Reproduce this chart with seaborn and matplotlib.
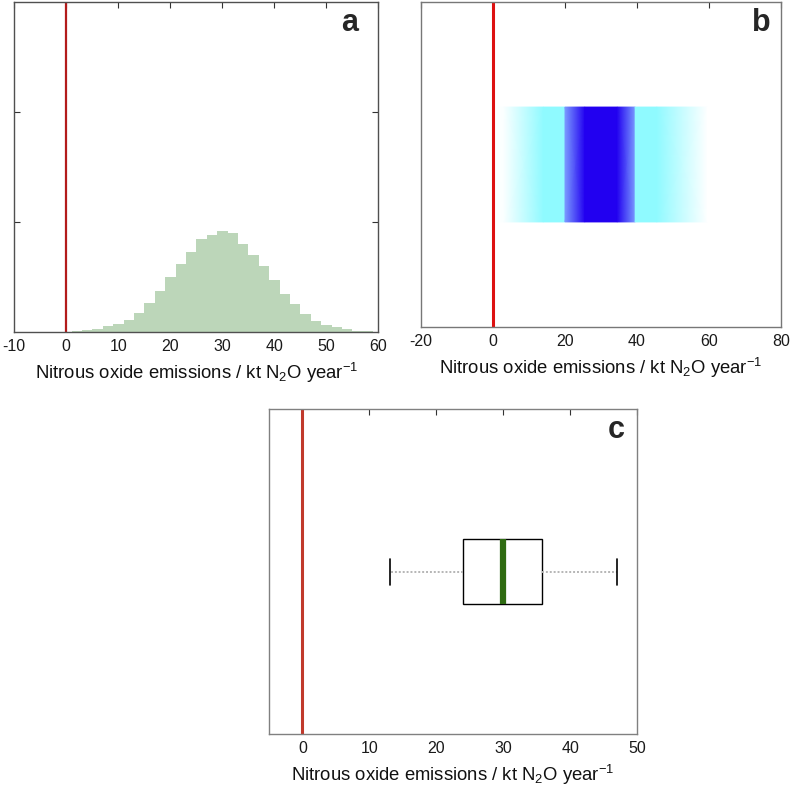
import numpy as np
import pandas as pd
import seaborn as sns
import matplotlib
matplotlib.use("Agg")  # no display
import matplotlib.pyplot as plt
from matplotlib.colors import LinearSegmentedColormap, to_hex

# Panel a: histogram of emissions (bin centres, 2 kt wide bins)
hist_centers = [-8, -6, -4, -2, 0, 2, 4, 6, 8, 10, 12, 14, 16, 18, 20, 22, 24,
                26, 28, 30, 32, 34, 36, 38, 40, 42, 44, 46, 48, 50, 52, 54, 56, 58]
hist_counts = [3, 3, 3, 3, 4, 6, 15, 27, 51, 73, 106, 169, 266, 375, 499, 614, 723,
               847, 883, 922, 898, 804, 698, 596, 475, 345, 254, 163, 97, 67, 42, 24, 12, 6]

# Panel b: density strip, shade level (0 = white, 1 = darkest) along x
strip_x = [0, 3, 14, 20, 20, 25.5, 34.5, 39.5, 39.5, 45.5, 59.5, 62]
strip_shade = [0, 0.02, 0.5, 0.5, 0.6, 1, 1, 0.6, 0.5, 0.5, 0.0, 0]

# Panel c: five-number summary of emissions
box_values = [13, 24, 30, 35.7, 47]

XLABEL = "Nitrous oxide emissions / kt N$_2$O year$^{-1}$"

sns.set_theme(style="white")
plt.rcParams['font.family'] = ['Liberation Sans', 'DejaVu Sans']
plt.rcParams['mathtext.fontset'] = 'custom'
plt.rcParams['mathtext.rm'] = 'Liberation Sans'
plt.rcParams['mathtext.it'] = 'Liberation Sans'
plt.rcParams['axes.unicode_minus'] = False

fig = plt.figure(figsize=(7.9, 7.9), dpi=100)
W = 790.0


def rect(left, top, right, bottom):
    return [left / W, 1 - bottom / W, (right - left) / W, (bottom - top) / W]


def style_axes(ax, spine_color):
    for s in ax.spines.values():
        s.set_color(spine_color)
        s.set_linewidth(1.0)
    ax.tick_params(axis='x', direction='in', top=True, length=4, width=0.8,
                   color='#333333', labelsize=11.5, labelcolor='#1a1a1a', pad=5)
    ax.set_xlabel(XLABEL, fontsize=13.3, color='#111111', labelpad=5)
    ax.set_ylabel("")


# ---- panel a ----
ax_a = fig.add_axes(rect(14.3, 2, 378.3, 332))
df_a = pd.DataFrame({"x": hist_centers, "n": hist_counts})
sns.histplot(data=df_a, x="x", weights="n", binwidth=2, binrange=(-9, 59),
             color="#bcd6b9", alpha=1, edgecolor="none", linewidth=0, ax=ax_a)
ax_a.axvline(0, color="#b31b1b", lw=1.6)
ax_a.set_xlim(-10, 60)
ax_a.set_ylim(0, 3000)
ax_a.set_xticks(range(-10, 61, 10))
ax_a.set_yticks([1000, 2000])
ax_a.set_yticklabels([])
style_axes(ax_a, '#505050')
ax_a.tick_params(axis='y', direction='in', left=True, right=True, length=4,
                 width=0.8, color='#333333')
ax_a.text(0.922, 0.935, "a", transform=ax_a.transAxes, fontsize=22,
          fontweight='bold', ha='center', va='center')

# ---- panel b ----
ax_b = fig.add_axes(rect(421, 2, 781, 327))
cmap_b = LinearSegmentedColormap.from_list(
    "strip", [(0.0, "#ffffff"), (0.5, "#8ffcff"), (0.6, "#7c9cff"), (1.0, "#2200f0")])
shade = np.array([strip_shade, strip_shade])
ax_b.pcolormesh(np.array(strip_x), np.array([0.97, 2.03]), shade, cmap=cmap_b,
                vmin=0, vmax=1, shading='gouraud')
ax_b.axvline(0, color="#dd1111", lw=2.2)
ax_b.set_xlim(-20, 80)
ax_b.set_ylim(0, 3)
ax_b.set_xticks(range(-20, 81, 20))
ax_b.set_yticks([])
style_axes(ax_b, '#777777')
ax_b.text(0.946, 0.935, "b", transform=ax_b.transAxes, fontsize=22,
          fontweight='bold', ha='center', va='center')

# ---- panel c ----
ax_c = fig.add_axes(rect(269, 409.3, 637.3, 734.3))
sns.boxplot(x=box_values, orient='h', width=0.2, whis=1.5, color='white',
            linecolor='black', linewidth=1.0, showfliers=False, ax=ax_c,
            whiskerprops={'color': '#b5b5b5', 'linestyle': (0, (1, 1)), 'linewidth': 1.4},
            capprops={'color': 'black', 'linewidth': 1.2},
            medianprops={'color': '#2f6b12', 'linewidth': 4.5},
            boxprops={'facecolor': 'white', 'edgecolor': 'black', 'linewidth': 1.0})
# shorten whisker caps to match the reference
for ln in ax_c.lines:
    xd = np.asarray(ln.get_xdata(), dtype=float)
    if len(xd) == 2 and xd[0] == xd[1] and to_hex(ln.get_color()) == '#000000':
        ln.set_ydata([-0.04, 0.04])
ax_c.axvline(0, color="#c0392b", lw=2.2)
ax_c.set_xlim(-5, 50)
ax_c.set_ylim(0.5, -0.5)
ax_c.set_xticks(range(0, 51, 10))
ax_c.set_yticks([])
style_axes(ax_c, '#808080')
ax_c.text(0.944, 0.936, "c", transform=ax_c.transAxes, fontsize=22,
          fontweight='bold', ha='center', va='center')

fig.savefig("out.png", dpi=100)
